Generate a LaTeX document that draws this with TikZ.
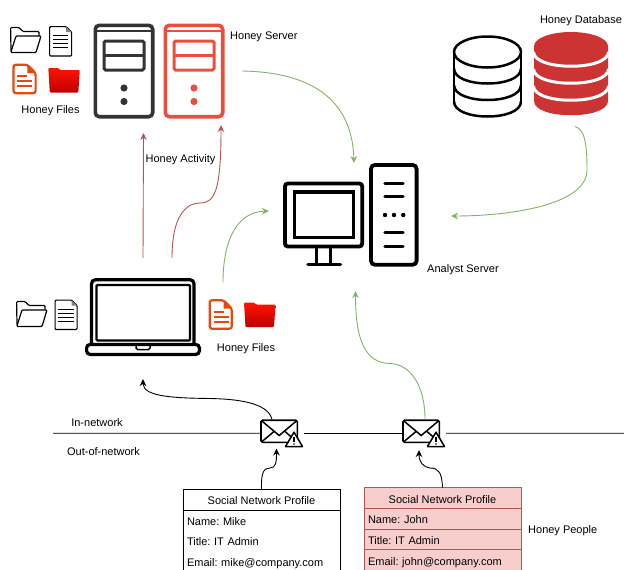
\documentclass[tikz,border=0pt]{standalone}
\usepackage{fontspec}
\setmainfont{Liberation Sans}
\frenchspacing
\usetikzlibrary{arrows.meta, positioning}
\definecolor{linkgreen}{HTML}{82B366}
\definecolor{linkred}{HTML}{B85450}
\definecolor{honeyfill}{HTML}{F8CECC}
\definecolor{honeyorange}{HTML}{E8470E}
\definecolor{honeyserver}{HTML}{EA4F3D}
\definecolor{honeydb}{HTML}{CC3333}
\definecolor{darkserver}{HTML}{333333}
\tikzset{
  >={Stealth[length=7pt,width=6.5pt]}, % all arrow heads
  every node/.style={font=\fontsize{11}{13}\selectfont},
  label/.style={inner sep=0pt, yshift=-1.8pt},
  iconbox/.style 2 args={anchor=north west, inner sep=0pt, outer sep=0pt, minimum width=#1pt, minimum height=#2pt},
  greenlink/.style={->, linkgreen, line width=0.9pt},
  redlink/.style={->, linkred, line width=0.9pt},
  blacklink/.style={->, black, line width=0.9pt},
  profilehead/.style={inner sep=0pt, outer sep=0pt, minimum width=157pt, minimum height=21pt, text height=10pt, text depth=0pt},
  profilerow/.style={inner xsep=4pt, inner ysep=0pt, outer sep=0pt, text width=149pt, align=left, minimum height=20.6pt, text height=10pt, text depth=0pt},
  honeycell/.style={draw=linkred, fill=honeyfill, line width=0.9pt},
  % icons, drawn from the top left corner of their box
  pics/server/.style={code={
    \draw[#1, line width=3.6pt, rounded corners=4pt] (1.8,1.8) rectangle (59.2,93.2);
    \draw[#1, line width=2.4pt] (1.8,7.2) -- (59.2,7.2);
    \draw[#1, line width=3pt, rounded corners=1.5pt] (10.5,17.5) rectangle (50.5,46.5);
    \draw[#1, line width=2.4pt] (10.5,32) -- (50.5,32);
    \fill[#1] (30.5,64.5) circle (3.6pt) (30.5,78) circle (3.6pt);
  }},
  pics/folder/.style={code={
    \draw[black, line width=1.2pt, rounded corners=1pt] (1,24) -- (0.6,1) -- (9,1) -- (13,5) -- (29,5) -- (29,9);
    \draw[black, line width=1.2pt, rounded corners=1pt] (0.8,26) -- (6,9.5) -- (31,9.5) -- (26,26) -- cycle;
  }},
  pics/paper/.style={code={
    \draw[black, line width=1.2pt, rounded corners=1pt] (0.6,0.6) -- (17,0.6) -- (22.6,6) -- (22.6,30) -- (0.6,30) -- cycle;
    \fill[gray] (17,0.6) -- (17,6) -- (22.6,6) -- cycle;
    \foreach \y in {9.5,13.5,17.5,21.5}
      \draw[black, line width=0.9pt] (3.5,\y) -- (19,\y);
  }},
  pics/reddoc/.style={code={
    \draw[honeyorange, line width=2.2pt, rounded corners=2.5pt] (1.2,1.2) -- (15,1.2) -- (23.3,9.5) -- (23.3,29.8) -- (1.2,29.8) -- cycle;
    \fill[honeyorange] (15,1.2) -- (15,9.5) -- (23.3,9.5) -- cycle;
    \foreach \y/\e in {12.7/15,17.7/20,22.7/20}
      \draw[honeyorange, line width=1.6pt] (5,\y) -- (\e,\y);
  }},
  pics/redfolder/.style={code={
    \shade[top color=red!85!orange, bottom color=red!75!black, rounded corners=1pt] (0,0.5) -- (10,0.5) -- (12,2.5) -- (31.5,2.5) -- (30,25) -- (1.5,25) -- cycle;
  }},
  pics/laptop/.style={code={
    \draw[black, line width=3.2pt, rounded corners=4pt] (6.5,66) -- (6.5,1.7) -- (109,1.7) -- (109,66);
    \draw[black, line width=2.4pt, rounded corners=1pt] (11.5,7) rectangle (105,62.5);
    \draw[black, line width=3.2pt, rounded corners=3.5pt] (1.6,66.5) rectangle (114.4,76.4);
    \draw[black, line width=1.5pt, rounded corners=1.5pt] (51,66.5) -- (51,71.5) -- (65,71.5) -- (65,66.5);
  }},
  pics/analyst/.style={code={
    \draw[black, line width=3.8pt, rounded corners=3pt] (1.9,20.5) rectangle (79.3,83.5);
    \draw[black, line width=3.6pt] (11.4,28.8) rectangle (70.3,74.6);
    \draw[black, line width=3.4pt] (33.7,85) -- (33.7,101) (47.7,85) -- (47.7,101);
    \draw[black, line width=3.4pt, line cap=round] (25,101.5) -- (57.5,101.5);
    \draw[black, line width=3.8pt, rounded corners=4pt] (88,1.9) rectangle (133.6,101.8);
    \foreach \y in {20.3,33.7,69.7,83.7}
      \draw[black, line width=3.4pt, line cap=round] (102,\y) -- (120,\y);
    \foreach \x in {102,111,120.3}
      \fill[black] (\x,52) circle (2.2pt);
  }},
  pics/dbplain/.style={code={
    \draw[black, line width=2.5pt] (34.5,16) ellipse (33.5pt and 15.5pt);
    \draw[black, line width=2.5pt] (1,16) -- (1,65.5) (68,16) -- (68,65.5);
    \foreach \y in {32.5,49,65.5}
      \draw[black, line width=2.5pt] (1,\y) .. controls (1,\y+20) and (68,\y+20) .. (68,\y);
  }},
  pics/dbred/.style={code={
    \fill[honeydb] (0,14.2) -- (0,69) .. controls (0,88) and (74,88) .. (74,69) -- (74,14.2) -- cycle;
    \fill[honeydb] (37,14.2) ellipse (37pt and 14.2pt);
    \foreach \y in {20,37,54}
      \draw[white, line width=3pt] (-0.5,\y) .. controls (0,\y+19) and (74,\y+19) .. (74.5,\y);
  }},
  pics/mail/.style={code={
    \draw[black, line width=1.6pt, rounded corners=1.5pt] (0,0.7) rectangle (36.3,22.8);
    \draw[black, line width=1.5pt] (0.3,1) -- (18.2,16) -- (36,1) (0.6,22.4) -- (13,12) (36,22.4) -- (24,12);
    \draw[black, fill=white, line width=1.5pt, line join=round] (24.5,27) -- (33,12.7) -- (41.5,27) -- cycle;
    \draw[black, line width=1.3pt] (33,17.5) -- (33,22);
    \fill[black] (33,24.5) circle (0.8pt);
  }},
}
\begin{document}
\begin{tikzpicture}[x=1pt, y=-1pt]
  \useasboundingbox (0,0) rectangle (624,570);

  % servers and top files
  \node[iconbox={61}{95}] (server1) at (93.5,23.5) {};
  \node[iconbox={61}{95}, right=9pt of server1] (server2) {};
  \pic at (server1.north west) {server=darkserver};
  \pic at (server2.north west) {server=honeyserver};
  \node[iconbox={31}{26}] (folder1) at (10,26.5) {};
  \node[iconbox={23}{30}] (paper1) at (49,26) {};
  \node[iconbox={24}{31}] (reddoc1) at (12.3,63.5) {};
  \node[iconbox={31}{25}] (redfolder1) at (48.3,67.5) {};
  \pic at (folder1.north west) {folder};
  \pic at (paper1.north west) {paper};
  \pic at (reddoc1.north west) {reddoc};
  \pic at (redfolder1.north west) {redfolder};
  \node[label] (filesTop) at (50.5,109) {Honey Files};
  \node[label, anchor=west] (serverLabel) at (230,35) {Honey Server};

  % databases
  \node[iconbox={69}{81}] (dbplain) at (453,36) {};
  \node[iconbox={74}{83}] (dbhoney) at (534,32) {};
  \pic at (dbplain.north west) {dbplain};
  \pic at (dbhoney.north west) {dbred};
  \node[label] (dbLabel) at (581,19) {Honey Database};

  % analyst
  \node[iconbox={136}{104}] (pc) at (283,163) {};
  \pic at (pc.north west) {analyst};
  \node[label] (pcLabel) at (463,268) {Analyst Server};

  % laptop and its files
  \node[iconbox={116}{78}] (laptop) at (85,278) {};
  \pic at (laptop.north west) {laptop};
  \node[iconbox={31}{26}] (folder2) at (16,300.5) {};
  \node[iconbox={23}{30}] (paper2) at (54.5,299.5) {};
  \node[iconbox={24}{31}] (reddoc2) at (208.5,299) {};
  \node[iconbox={31}{25}] (redfolder2) at (244,302) {};
  \pic at (folder2.north west) {folder};
  \pic at (paper2.north west) {paper};
  \pic at (reddoc2.north west) {reddoc};
  \pic at (redfolder2.north west) {redfolder};
  \node[label] (filesLaptop) at (246,347) {Honey Files};
  \node[label] (activity) at (180.5,158) {Honey Activity};

  % network line
  \node[iconbox={43}{27.5}] (mail1) at (261,419.5) {};
  \node[iconbox={43}{27.5}] (mail2) at (403,419.5) {};
  \pic at (mail1.north west) {mail};
  \pic at (mail2.north west) {mail};
  \coordinate (netLeft) at (53,433.2);
  \coordinate (netRight) at (624,433.2);
  \draw[black, line width=0.9pt] (netLeft) -- (mail1.west);
  \draw[black, line width=0.9pt] (mail1.east) -- (mail2.west);
  \draw[black, line width=0.9pt] (mail2.east) -- (netRight);
  \node[label] (inNet) at (97,421) {In-network};
  \node[label] (outNet) at (103.5,450) {Out-of-network};

  % profiles
  \node[profilehead, draw=black, line width=0.9pt] (mikeHead) at (261.5,499.5) {Social Network Profile};
  \node[profilerow, below=0pt of mikeHead] (mikeName) {Name: Mike};
  \node[profilerow, below=0pt of mikeName] (mikeTitle) {Title: IT Admin};
  \node[profilerow, below=0pt of mikeTitle] (mikeMail) {Email: mike@company.com};
  \draw[black, line width=0.9pt] (mikeHead.south west) -- (mikeMail.south west);
  \draw[black, line width=0.9pt] (mikeHead.south east) -- (mikeMail.south east);

  \node[profilehead, honeycell] (johnHead) at (442.5,498) {Social Network Profile};
  \node[profilerow, honeycell, below=0pt of johnHead] (johnName) {Name: John};
  \node[profilerow, honeycell, below=0pt of johnName] (johnTitle) {Title: IT Admin};
  \node[profilerow, honeycell, below=0pt of johnTitle] (johnMail) {Email: john@company.com};
  \node[label, anchor=west] (people) at (528,529) {Honey People};

  % links
  \draw[redlink] ([yshift=20pt]laptop.north) -- ([xshift=19.5pt,yshift=-14.5pt]server1.south);
  \draw[redlink] ([xshift=29pt,yshift=20pt]laptop.north) .. controls (172,210) and (190,203) .. (200,203) .. controls (215,203) and (221,190) .. ([xshift=27pt,yshift=-6.5pt]server2.south);
  \draw[greenlink] ([xshift=22pt,yshift=-4.5pt]laptop.north east) .. controls (223,240) and (237,212) .. ([xshift=-14pt,yshift=4pt]pc.west);
  \draw[greenlink] ([xshift=17.5pt]server2.east) .. controls (305,72) and (352,95) .. ([xshift=3pt]pc.north);
  \draw[greenlink] ([xshift=4pt,yshift=-11.5pt]dbhoney.south) .. controls (585,129) and (587,145) .. (587,170) .. controls (587,205) and (510,216) .. ([xshift=32pt,yshift=-1pt]pc.east);
  \draw[greenlink] ([xshift=0.5pt]mail2.north) .. controls (425,385) and (410,364) .. (390,363.5) .. controls (365,363) and (355.5,340) .. ([xshift=4.5pt,yshift=-24pt]pc.south);
  \draw[blacklink] ([xshift=-10.5pt]mail1.north) .. controls (268,402) and (235,399) .. (210,398.5) .. controls (175,398) and (143,397) .. ([yshift=-23pt]laptop.south);
  \draw[blacklink] (mikeHead.north) .. controls (261,472) and (264,468) .. (270,468) .. controls (276,468) and (276.5,462) .. ([xshift=-6pt,yshift=-1.5pt]mail1.south);
  \draw[blacklink] (johnHead.north) .. controls (442,472) and (438,468) .. (430,468) .. controls (423,467) and (419,462) .. ([xshift=-5.5pt,yshift=-3pt]mail2.south);
\end{tikzpicture}
\end{document}
